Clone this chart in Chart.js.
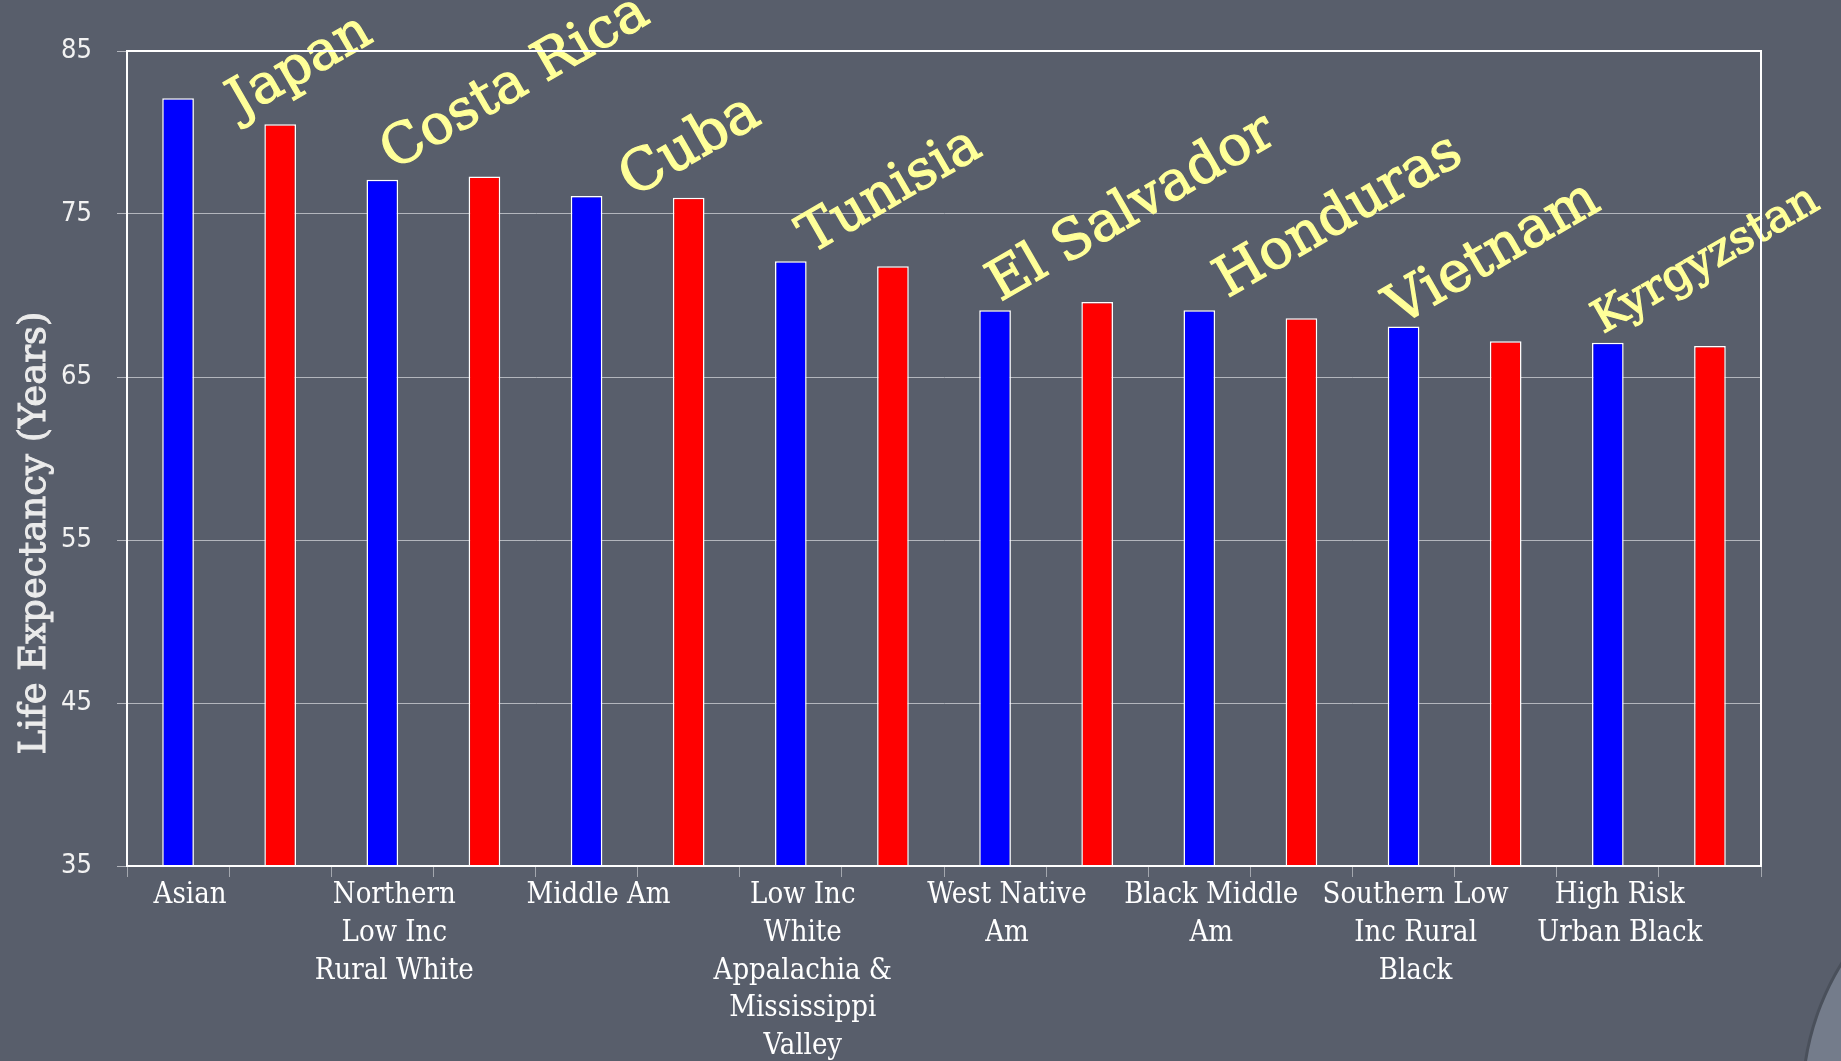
<!DOCTYPE html>
<html>
<head>
<meta charset="utf-8">
<title>Life Expectancy</title>
<script src="https://cdn.jsdelivr.net/npm/chart.js@4.4.1/dist/chart.umd.min.js"></script>
<style>
    html, body { margin: 0; padding: 0; background: #585e6b; overflow: hidden; }
    #wrap { position: relative; width: 1841px; height: 1061px; overflow: hidden; }
    #corner {
        position: absolute; left: 1801px; top: 838px; width: 520px; height: 520px;
        border-radius: 50%; background: #747c8b; border: 3px solid #4a505b;
    }
    #chart { position: absolute; left: 0; top: 0; }
</style>
</head>
<body>
<div id="wrap">
    <div id="corner"></div>
    <canvas id="chart" width="1841" height="1061"></canvas>
</div>
<script>
// US population groups (blue) next to the country with a similar life expectancy (red)
var americas = [
    ['Asian'],
    ['Northern', 'Low Inc', 'Rural White'],
    ['Middle Am'],
    ['Low Inc', 'White', 'Appalachia &', 'Mississippi', 'Valley'],
    ['West Native', 'Am'],
    ['Black Middle', 'Am'],
    ['Southern Low', 'Inc Rural', 'Black'],
    ['High Risk', 'Urban Black']
];
var americaValues = [82.1, 77.1, 76.1, 72.1, 69.1, 69.1, 68.1, 67.1];

var countries = ['Japan', 'Costa Rica', 'Cuba', 'Tunisia', 'El Salvador', 'Honduras', 'Vietnam', 'Kyrgyzstan'];
var countryValues = [80.5, 77.3, 76.0, 71.8, 69.6, 68.6, 67.2, 66.9];

var yTicks = [35, 45, 55, 65, 75, 85];

// hand placement of the slanted country names, relative to their bar top
var nameShift = [[-40, -6], [-91, -6], [-56, 0], [-82, -12], [-97, 0], [-74, -20], [-107, -15], [-107, -12]];
var nameSize = [54, 55, 57, 54, 55, 55, 56, 45];

// interleave the two series into one row of bars
var labels = [];
var values = [];
var colors = [];
for (var i = 0; i < americas.length; i++) {
    labels.push(americas[i], '');
    values.push(americaValues[i], countryValues[i]);
    colors.push('#0000ff', '#ff0000');
}

var countryLabels = {
    id: 'countryLabels',
    afterDatasetsDraw: function (chart) {
        var ctx = chart.ctx;
        var bars = chart.getDatasetMeta(0).data;
        ctx.save();
        ctx.fillStyle = '#ffff99';
        ctx.strokeStyle = '#ffff99';
        ctx.lineWidth = 1.2;
        ctx.textAlign = 'left';
        ctx.textBaseline = 'alphabetic';
        for (var i = 0; i < countries.length; i++) {
            var bar = bars[i * 2 + 1];
            ctx.save();
            ctx.font = nameSize[i] + 'px "DejaVu Serif", serif';
            ctx.translate(bar.x + nameShift[i][0], bar.y + nameShift[i][1]);
            ctx.rotate(-30 * Math.PI / 180);
            ctx.fillText(countries[i], 0, 0);
            ctx.strokeText(countries[i], 0, 0);
            ctx.restore();
        }
        ctx.restore();
    }
};

var frameAndTitle = {
    id: 'frameAndTitle',
    afterDraw: function (chart) {
        var ctx = chart.ctx;
        var a = chart.chartArea;
        ctx.save();
        ctx.strokeStyle = '#ffffff';
        ctx.lineWidth = 2;
        ctx.strokeRect(a.left, a.top, a.right - a.left, a.bottom - a.top);

        ctx.translate(35, 533);
        ctx.rotate(-Math.PI / 2);
        ctx.fillStyle = '#ebebeb';
        ctx.strokeStyle = '#ebebeb';
        ctx.lineWidth = 1;
        ctx.font = '37px "DejaVu Serif", serif';
        ctx.textAlign = 'center';
        ctx.textBaseline = 'middle';
        ctx.fillText('Life Expectancy (Years)', 0, 0);
        ctx.strokeText('Life Expectancy (Years)', 0, 0);
        ctx.restore();
    }
};

var ctx = document.getElementById('chart').getContext('2d');
var chart = new Chart(ctx, {
    type: 'bar',
    data: {
        labels: labels,
        datasets: [{
            data: values,
            backgroundColor: colors,
            borderColor: '#ffffff',
            borderWidth: 1.5,
            categoryPercentage: 1,
            barPercentage: 0.31
        }]
    },
    options: {
        responsive: false,
        animation: false,
        devicePixelRatio: 1,
        layout: {
            padding: { top: 51, right: 80, left: 0, bottom: 0 }
        },
        scales: {
            x: {
                afterFit: function (scale) { scale.height = 195; },
                grid: {
                    drawOnChartArea: false,
                    tickLength: 11,
                    color: '#a3a7ae',
                    offset: true
                },
                border: { color: '#ffffff', width: 2 },
                ticks: {
                    autoSkip: false,
                    maxRotation: 0,
                    minRotation: 0,
                    padding: 0,
                    labelOffset: 12,
                    color: '#ffffff',
                    font: { family: '"DejaVu Serif Condensed", "DejaVu Serif", serif', size: 29, lineHeight: 1.3 }
                }
            },
            y: {
                min: 35,
                max: 85,
                afterFit: function (scale) { scale.width = 127; },
                afterBuildTicks: function (scale) {
                    scale.ticks = yTicks.map(function (v) { return { value: v }; });
                },
                grid: {
                    color: '#b3b6bd',
                    lineWidth: 1,
                    tickLength: 10
                },
                border: { color: '#ffffff', width: 2 },
                ticks: {
                    padding: 25,
                    color: '#f2f2f2',
                    font: { family: '"Liberation Sans Narrow", "DejaVu Sans Condensed", sans-serif', size: 27 }
                }
            }
        },
        plugins: {
            legend: { display: false },
            tooltip: { enabled: false }
        }
    },
    plugins: [countryLabels, frameAndTitle]
});
</script>
</body>
</html>
